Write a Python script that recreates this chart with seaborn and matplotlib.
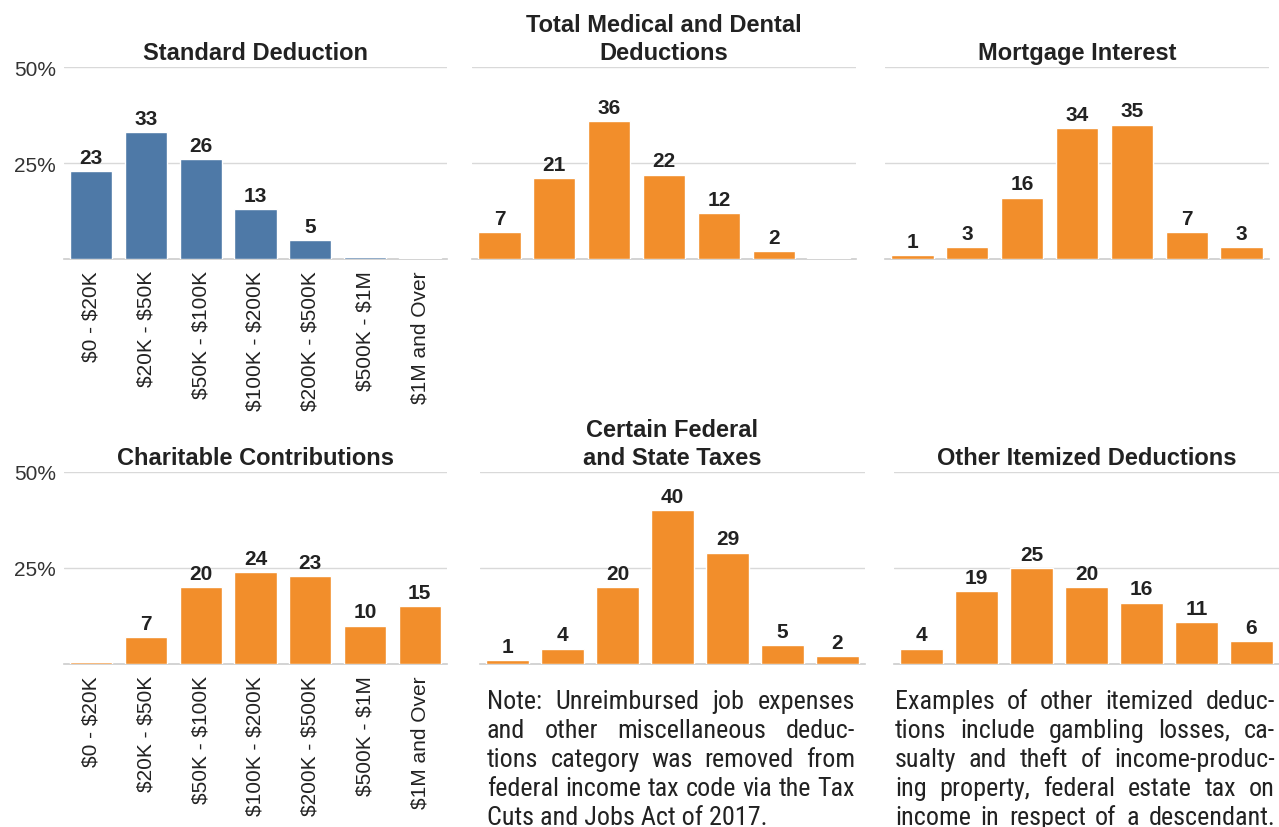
import matplotlib
matplotlib.use("Agg")
import matplotlib.pyplot as plt
import seaborn as sns
from matplotlib import font_manager as fm
from matplotlib.font_manager import FontProperties

# ---------------- data ----------------
brackets = ["$0 - $20K", "$20K - $50K", "$50K - $100K", "$100K - $200K",
            "$200K - $500K", "$500K - $1M", "$1M and Over"]

standard_deduction = [23, 33, 26, 13, 5, 0.6, 0.3]
medical_dental = [7, 21, 36, 22, 12, 2, 0.2]
mortgage_interest = [1, 3, 16, 34, 35, 7, 3]
charitable = [0.4, 7, 20, 24, 23, 10, 15]
federal_state_taxes = [1, 4, 20, 40, 29, 5, 2]
other_itemized = [4, 19, 25, 20, 16, 11, 6]

titles = ["Standard Deduction", "Total Medical and Dental\nDeductions", "Mortgage Interest",
          "Charitable Contributions", "Certain Federal\nand State Taxes", "Other Itemized Deductions"]
y_ticks = [25, 50]
y_tick_labels = ["25%", "50%"]

note_left = ["Note: Unreimbursed job expenses",
             "and other miscellaneous deduc-",
             "tions category was removed from",
             "federal income tax code via the Tax",
             "Cuts and Jobs Act of 2017."]
note_right = ["Examples of other itemized deduc-",
              "tions include gambling losses, ca-",
              "sualty and theft of income-produc-",
              "ing  property, federal estate tax on",
              "income in respect of a descendant."]

BLUE = "#4E79A7"
ORANGE = "#F28E2B"
TEXT = "#333333"
DARK = "#222222"
GRID = "#d9d9d9"

sns.set_theme(style="white")
plt.rcParams["font.family"] = ["Liberation Sans", "DejaVu Sans"]
plt.rcParams["text.parse_math"] = False

W, H = 1279, 828
fig = plt.figure(figsize=(W / 100, H / 100), dpi=100)


def fx(px):
    return px / W


def fy(px):
    return 1 - px / H


# axes placement in pixels: (left, right, top(50%), bottom(0))
boxes = [(64, 447, 68, 260), (472, 856, 68, 260), (885, 1269, 68, 260),
         (64, 447, 473, 665), (480, 865, 473, 665), (894, 1279, 473, 665)]
series = [standard_deduction, medical_dental, mortgage_interest,
          charitable, federal_state_taxes, other_itemized]
colors = [BLUE, ORANGE, ORANGE, ORANGE, ORANGE, ORANGE]

for i, (box, vals, col, title) in enumerate(zip(boxes, series, colors, titles)):
    l, r, t, b = box
    ax = fig.add_axes([fx(l), fy(b), fx(r) - fx(l), fy(t) - fy(b)])
    sns.barplot(x=brackets, y=vals, color=col, saturation=1, width=0.77, ax=ax,
                order=brackets, zorder=3)
    ax.set_ylim(0, 50)
    ax.set_xlim(-0.5, len(brackets) - 0.5)
    for y in y_ticks:
        ax.axhline(y, color=GRID, lw=1, zorder=0)
    ax.set_yticks(y_ticks)
    if i % 3 == 0:
        ax.set_yticklabels(y_tick_labels, fontsize=15, color=TEXT)
        ax.tick_params(axis="x", labelrotation=90, labelsize=15, labelcolor=DARK,
                       length=0, pad=8)
    else:
        ax.set_yticklabels([])
        ax.set_xticklabels([])
    ax.tick_params(axis="y", length=0, pad=6)
    ax.tick_params(axis="x", length=0)
    ax.set_xlabel("")
    ax.set_ylabel("")
    for s in ["top", "right", "left"]:
        ax.spines[s].set_visible(False)
    ax.spines["bottom"].set_color("#cccccc")
    ax.spines["bottom"].set_linewidth(1.2)
    ax.spines["bottom"].set_zorder(1)
    ax.set_title(title, fontsize=17, fontweight="bold", color=DARK, pad=6,
                 linespacing=1.25)
    for container in ax.containers:
        labels = [f"{v:.0f}" if v >= 1 else "" for v in vals]
        ax.bar_label(container, labels=labels, padding=3, fontsize=15,
                     fontweight="bold", color=DARK)

# -------- justified notes --------
note_font = None
narrow_names = ["Liberation Sans Narrow", "Arial Narrow", "Roboto Condensed",
                "Open Sans Condensed", "Noto Sans Condensed"]
for f in fm.fontManager.ttflist:
    if f.name in narrow_names and f.weight in (400, "normal", "regular") and f.style == "normal":
        note_font = f.fname
        break
if note_font is None:
    for f in fm.fontManager.ttflist:
        if f.name == "DejaVu Sans" and "Condensed" in f.fname and "Bold" not in f.fname \
                and "Oblique" not in f.fname:
            note_font = f.fname
            break


def props(size):
    if note_font:
        return FontProperties(fname=note_font, size=size)
    return FontProperties(family="Liberation Sans", size=size)


fig.canvas.draw()
renderer = fig.canvas.get_renderer()


def fit_size(lines, avail, target):
    size = target
    for line in lines:
        t = fig.text(0, 0, line, fontproperties=props(target))
        w = t.get_window_extent(renderer).width
        t.remove()
        size = min(size, target * avail / w * 0.99)
    return size


def justified(lines, x0, x1, ycenter0, pitch, size, justify_last):
    fp = props(size)
    for k, line in enumerate(lines):
        y = fy(ycenter0 + k * pitch)
        words = line.split()
        last = (k == len(lines) - 1) and not justify_last
        if last or len(words) == 1:
            fig.text(fx(x0), y, line, fontproperties=fp, color=DARK, va="center", ha="left")
            continue
        txts = [fig.text(0, y, w, fontproperties=fp, color=DARK, va="center", ha="left")
                for w in words]
        widths = [t.get_window_extent(renderer).width for t in txts]
        gap = ((x1 - x0) - sum(widths)) / (len(words) - 1)
        x = x0
        for t, w in zip(txts, widths):
            t.set_x(fx(x))
            x += w + gap


size = min(fit_size(note_left, 368, 20), fit_size(note_right, 380, 20))
justified(note_left, 487, 855, 702, 29, size, False)
justified(note_right, 895, 1275, 702, 29, size, True)

fig.savefig("out.png", dpi=100)
